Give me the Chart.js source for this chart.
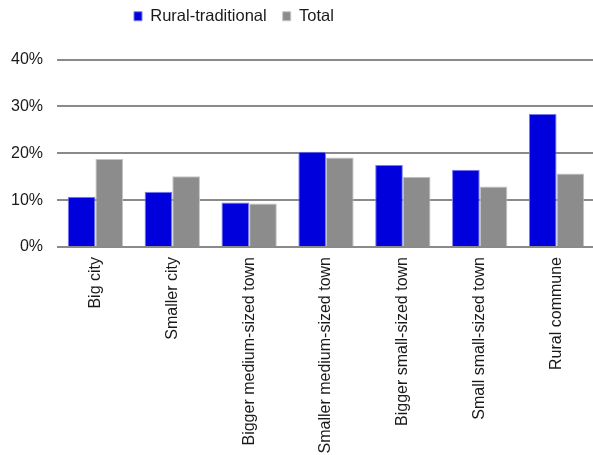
<!DOCTYPE html>
<html>
<head>
<meta charset="utf-8">
<script src="https://cdn.jsdelivr.net/npm/chart.js@4/dist/chart.umd.min.js"></script>
<style>
    html, body { margin: 0; padding: 0; background: #fff; overflow: hidden; }
    #wrap { position: relative; width: 595px; height: 455px; }
</style>
</head>
<body>
<div id="wrap"><canvas id="chart"></canvas></div>
<script>
const categories = [
    'Big city',
    'Smaller city',
    'Bigger medium-sized town',
    'Smaller medium-sized town',
    'Bigger small-sized town',
    'Small small-sized town',
    'Rural commune',
];
const ruralTraditional = [10.7, 11.8, 9.5, 20.3, 17.5, 16.5, 28.4];
const total = [18.8, 15.1, 9.3, 19.1, 15.0, 12.9, 15.7];
const yTicks = [0, 10, 20, 30, 40];

const palette = {
    blue: '#0000dc',
    gray: '#8c8c8c',
    grid: '#8a8a8a',
    text: '#1a1a1a',
};

// nudge the legend to where the original sits (left of centre, close to the top)
const legendNudge = {
    id: 'legendNudge',
    afterLayout(chart) {
        const lg = chart.legend;
        const h = lg.bottom - lg.top;
        lg.left = 118;
        lg.top = -8;
        lg.bottom = lg.top + h;
    },
};

Chart.defaults.font.family = '"Liberation Sans", Arial, sans-serif';
Chart.defaults.font.size = 16;
Chart.defaults.color = palette.text;

new Chart(document.getElementById('chart'), {
    type: 'bar',
    data: {
        labels: categories,
        datasets: [{
            label: 'Rural-traditional',
            data: ruralTraditional,
            backgroundColor: palette.blue,
            borderColor: '#7a7af0',
            borderWidth: 1,
        }, {
            label: 'Total',
            data: total,
            backgroundColor: palette.gray,
            borderColor: '#c4c4c4',
            borderWidth: 1,
        }],
    },
    options: {
        responsive: true,
        maintainAspectRatio: false,
        animation: false,
        layout: { padding: { left: 11, right: 0, top: 17, bottom: 0 } },
        datasets: { bar: { categoryPercentage: 0.72, barPercentage: 1 } },
        plugins: {
            legend: {
                position: 'top',
                align: 'start',
                labels: { boxWidth: 8, boxHeight: 9, padding: 16, font: { size: 16.5 } },
            },
            tooltip: { enabled: false },
        },
        scales: {
            x: {
                grid: { display: false, drawTicks: false },
                border: { display: false },
                ticks: { minRotation: 90, maxRotation: 90, padding: 10, autoSkip: false },
                afterFit: axis => {
                    axis.paddingLeft = 0;
                    axis.paddingRight = 0;
                    axis.height = 208;
                },
            },
            y: {
                min: 0,
                max: 40,
                afterBuildTicks: axis => { axis.ticks = yTicks.map(value => ({ value })); },
                grid: { color: palette.grid, lineWidth: 2, drawTicks: false },
                border: { display: false },
                ticks: { padding: 14, callback: value => `${value}%` },
                afterFit: axis => { axis.width = 46; },
            },
        },
    },
    plugins: [legendNudge],
});
</script>
</body>
</html>
